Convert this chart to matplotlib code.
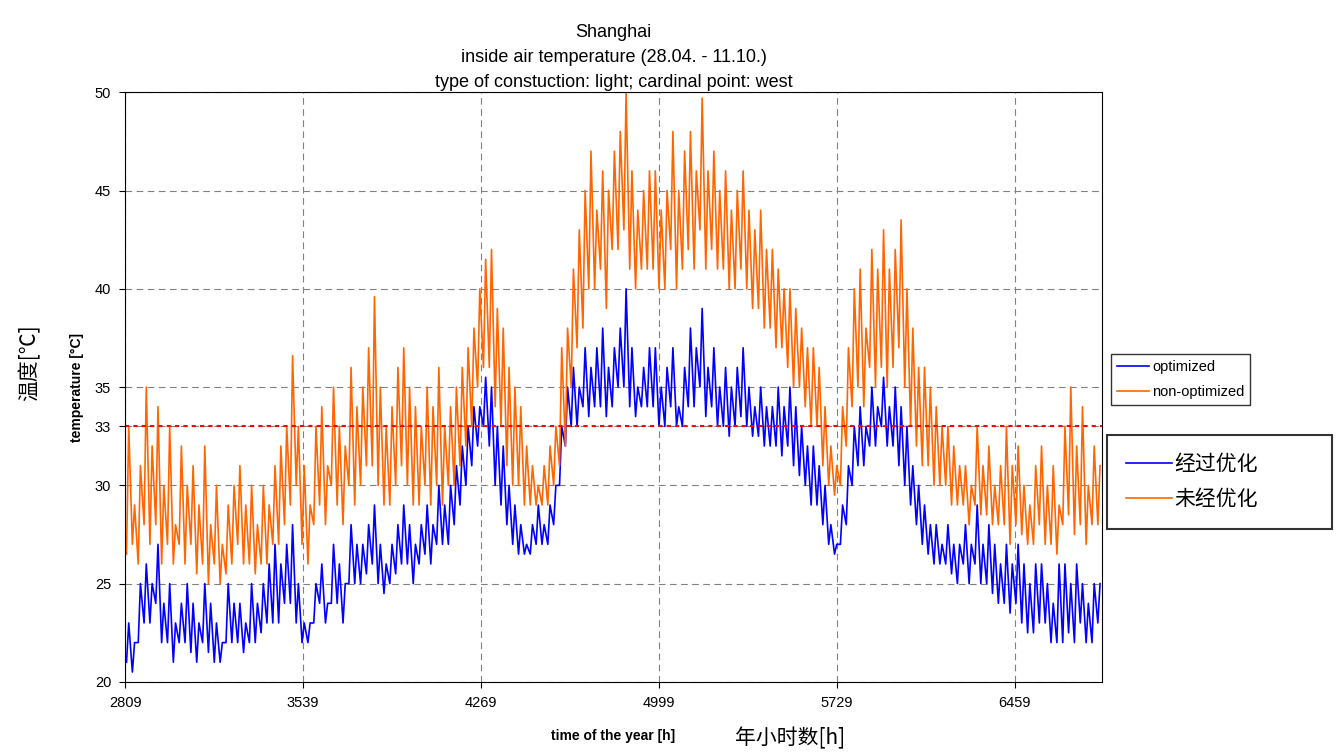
import numpy as np
import matplotlib.pyplot as plt

plt.rcParams['font.family'] = ['Liberation Sans', 'Noto Sans CJK SC', 'DejaVu Sans']

start_hour = 2809
# daily maxima / minima (one value per day, 28.04. - 11.10.)
orange_max = [33,29,31,35,32,34,30,33,28,32, 30,31,29,32,28,30,27,29,30,31,
              29,30,28,30,29,31,32,33,36.6,33, 31,29,33,34,31,35,33,32,36,34,
              35,37,39.6,35,33,34,36,37,35,34, 33,35,34,36,33,34,35,36,37,38,
              40,41.5,42,39,38,36,35,34,32,31, 30,31,32,33,37,38,41,43,45,47,
              44,46,45,47,48,50,46,44,45,46, 46,44,45,48,45,47,48,46,49.7,46,
              47,45,46,44,45,46,44,43,44,42, 42,41,40,40,39,38,37,37,36,34,
              32,31,34,37,40,41,38,42,41,43, 41,42,43.5,40,38,36,36,35,34,33,
              33,32,31,31,30,33,31,32,30,31, 33,31,32,30,29,31,32,30,31,29,
              33,35,32,34,30,32,31]
orange_min = [26.5,27,26,28,27,28,26,27,26,27, 26,27,25.5,26,25,26,25,25.5,26,27,
              26,26,25.5,26,26,27,27,28,29,30, 27,26,28,29,28,30,29,28,30,29,
              30,31,31,30,29,29,30,31,30,29, 29,30,29,30,29,30,30,31,32,33,
              35,36,36,34,33,31,30,30,29,29, 29,29,29,30,31,32,35,37,38,40,
              40,41,39,42,42,43,41,40,41,41, 41,40,40,42,40,41,42,41,43,41,
              42,41,41,40,40,41,40,39,39,38, 38,37,37,36,35,35,34,33,33,31,
              30,29.5,30,32,34,35,34,36,35,36, 35,36,37,35,33,32,31,31,30,30,
              30,29,29,29,28,29,28.5,28.5,28,28, 28,27,28,27.5,27,27,28,27,27,26.5,
              28,28.5,27.5,28,27,28,28]
blue_max = [23,22,25,26,25,27,24,25,23,24, 25,24,23,25,24,23,22,25,24,24,
            23,25,24,25,26,27,26,27,28,25, 23,23,25,26,24,27,26,25,28,27,
            27,28,29,27,26,27,28,29,28,27, 28,29,28,30,29,30,31,32,33,34,
            34,35.5,35,33,32,30,29,28,27,28, 29,28,29,30,33,35,36,35,37,36,
            37,38,36,37,38,40,37,35,36,37, 37,35,36,37,34,36,38,37,39,36,
            37,35,36,35,36,37,35,34,35,34, 34,35,34,35,34,33,32,32,31,30,
            28,27,29,31,33,34,33,35,34,35.5, 34,35,34,33,31,30,29,28,28,27,
            28,27,27,28,27,29,27,28,27,26, 27,26,27,26,25,26,26,25,24,26,
            26,25,26,25,24,25,25]
blue_min = [21,20.5,22,23,23,24,22,22,21,22, 22,21.5,21,22,21.5,21,21,22,22,22,
            21.5,22,22,22.5,23,23,23,24,24,23, 22,22,23,24,23,24,24,23,25,25,
            25,25.5,26,25,24.5,25,25.5,26,26,25, 26,26.5,26,27,27,27,28,29,30,31,
            32,33,32,30,29,28,27,26.5,26.5,26.5, 27,27,27,28,30,32,33,33,34,33.5,
            34,34,33.5,34,35,35,34,33.5,34,34, 34,33,33,34,33,33,34,34,35,33.5,
            34,33,33,32.5,33,33.5,33,32.5,32.5,32, 32,32,31.5,32,31,30.5,30,29,29,28,
            27,26.5,27,28,30,31,31,32,32,33, 32,32,31,30,29,28,27,26.5,26,26,
            26,25.5,25,26,25,26,25,25,24.5,24, 24,23.5,24,23,22.5,22.5,23,23,22,22,
            22,22.5,22,23,22,22,23]
threshold = 33


def zigzag(lo, hi):
    days = np.arange(len(lo))
    x = np.column_stack([start_hour + days * 24 + 6, start_hour + days * 24 + 15]).ravel()
    y = np.column_stack([lo, hi]).ravel()
    return x, y


fig = plt.figure(figsize=(13.39, 7.56), dpi=100)
ax = fig.add_axes([0.0934, 0.098, 0.7296, 0.780])

xb, yb = zigzag(blue_min, blue_max)
xo, yo = zigzag(orange_min, orange_max)
l1, = ax.plot(xb, yb, color='#0000ff', lw=1.2)
l2, = ax.plot(xo, yo, color='#ff6600', lw=1.2)
ax.axhline(threshold, color='red', ls=(0, (2, 2)), lw=1.5)

ax.set_xlim(2809, 6816)
ax.set_ylim(20, 50)
ax.set_xticks([2809, 3539, 4269, 4999, 5729, 6459])
ax.set_yticks([20, 25, 30, 33, 35, 40, 45, 50])
ax.tick_params(labelsize=10.5, direction='out', length=4, pad=6)
ax.grid(True, color='#808080', ls=(0, (6, 4)), lw=0.8)
ax.set_xlabel('time of the year [h]', fontsize=10, fontweight='bold', labelpad=14)
ax.set_ylabel('temperature [°C]', fontsize=10, fontweight='bold', labelpad=8)
ax.set_title('Shanghai\ninside air temperature (28.04. - 11.10.)\ntype of constuction: light; cardinal point: west',
             fontsize=13, linespacing=1.6, pad=4)

fig.text(0.022, 0.52, '温度[℃]', rotation=90, fontsize=15, va='center', ha='center',
         family=['Noto Sans CJK SC', 'DejaVu Sans'])
fig.text(0.59, 0.015, '年小时数[h]', fontsize=15, ha='center',
         family=['Noto Sans CJK SC', 'DejaVu Sans'])

fig.legend([l1, l2], ['optimized', 'non-optimized'], loc='upper left',
           bbox_to_anchor=(0.830, 0.532), fontsize=10.5, frameon=True, fancybox=False,
           edgecolor='black', handlelength=2.2, handletextpad=0.2, labelspacing=0.8,
           borderaxespad=0)
leg2 = fig.legend([l1, l2], ['经过优化', '未经优化'], loc='upper left', mode='expand',
                  bbox_to_anchor=(0.827, 0.305, 0.168, 0.12), frameon=True, fancybox=False,
                  edgecolor='black', handlelength=2.2, handletextpad=0.1, borderpad=0.9,
                  borderaxespad=0, labelspacing=0.6,
                  prop={'family': ['Noto Sans CJK SC', 'DejaVu Sans'], 'size': 15})
leg2.get_frame().set_linewidth(1.5)

fig.savefig('out.png', dpi=100)
